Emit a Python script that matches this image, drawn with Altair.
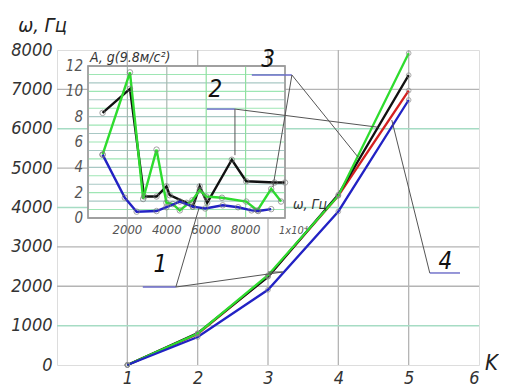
import altair as alt
import pandas as pd

# ---------------- main chart data ----------------
K = [1, 2, 3, 4, 5]
w_black = [0, 810, 2240, 4330, 7360]
w_red = [0, 790, 2250, 4300, 6970]
w_green = [0, 800, 2280, 4300, 7920]
w_blue = [0, 710, 1910, 3900, 6730]

x_ticks = [1, 2, 3, 4, 5, 6]
y_ticks = [0, 1000, 2000, 3000, 4000, 5000, 6000, 7000, 8000]
grid_k = [1, 2, 3, 4, 5]
grid_w_gray = [2000, 3000, 5000, 7000]
grid_w_green = [1000, 4000, 6000]

# ---------------- inset data ----------------
ins_black_x = [740, 2130, 2850, 3480, 3980, 4150, 5000, 5320, 5670, 6050, 7300, 8030, 9470, 10000]
ins_black_y = [8.3, 10.2, 1.7, 1.7, 2.5, 1.8, 1.2, 0.9, 2.5, 1.2, 4.6, 2.9, 2.8, 2.8]
ins_green_x = [740, 2130, 2800, 3480, 3980, 4300, 4660, 5300, 5670, 6000, 6800, 8030, 8600, 9300, 9800]
ins_green_y = [5.0, 11.5, 1.5, 5.4, 1.2, 1.1, 0.6, 1.4, 2.2, 1.7, 1.6, 1.3, 0.6, 2.3, 1.3]
ins_blue_x = [740, 1870, 2470, 3480, 3980, 4660, 5320, 5950, 6840, 7620, 8300, 8640, 9300]
ins_blue_y = [5.0, 1.6, 0.5, 0.55, 0.85, 1.3, 0.9, 0.75, 1.0, 0.85, 0.6, 0.55, 0.7]

ins_x_ticks = [2000, 4000, 6000, 8000]
ins_x_labels = ["2000", "4000", "6000", "8000"]
ins_y_ticks = [0, 2, 4, 6, 8, 10, 12]
ins_hgrid_a = [0.67, 2.0, 3.33, 4.67, 6.0, 7.33, 8.67, 10.0, 11.33]
ins_hgrid_b = [1.33, 2.67, 4.0, 5.33, 6.67, 8.0, 9.33, 10.67]
ins_vgrid_gray = [2000, 4000]
ins_vgrid_green = [6000, 8000]

# ---------------- annotation data (main-chart coordinates) ----------------
ann_labels = ["1", "2", "3", "4"]
ann_label_k = [1.47, 2.25, 3.0, 5.52]
ann_label_w = [2540, 6980, 7750, 2620]
shelf_k1 = [1.22, 2.13, 2.77, 5.30]
shelf_k2 = [1.69, 2.53, 3.34, 5.73]
shelf_w = [1980, 6500, 7365, 2337]
lead_k1 = [1.69, 1.69, 3.0, 2.53, 2.53, 3.34, 3.34, 5.30]
lead_w1 = [1980, 1980, 2362, 6500, 6500, 7365, 7365, 2337]
lead_k2 = [2.02, 3.21, 3.21, 2.53, 4.56, 4.28, 3.07, 4.76]
lead_w2 = [3990, 2362, 2362, 5330, 6040, 5280, 4520, 6220]

FONT = "DejaVu Sans Condensed"
GRAY = "#b4b4b4"
GREENGRID = "#a6dcc4"

series_names = ["red", "black", "green", "blue"]
series_colors = ["#d42020", "#111111", "#2edc2e", "#2222c4"]

main_rows = []
for name, vals in [("red", w_red), ("black", w_black), ("green", w_green), ("blue", w_blue)]:
    for k, w in zip(K, vals):
        main_rows.append({"K": k, "w": w, "s": name})
main_df = pd.DataFrame(main_rows)

ins_rows = []
for name, xs, ys in [("black", ins_black_x, ins_black_y), ("green", ins_green_x, ins_green_y),
                     ("blue", ins_blue_x, ins_blue_y)]:
    for i, (a, b) in enumerate(zip(xs, ys)):
        ins_rows.append({"f": a, "g": b, "s": name, "i": i})
ins_df = pd.DataFrame(ins_rows)

xs_main = alt.Scale(domain=[0, 6], nice=False, zero=False)
ys_main = alt.Scale(domain=[0, 8000], nice=False)
xaxis = alt.Axis(values=x_ticks, grid=False, ticks=False, domain=False, labelFont=FONT,
                 labelFontStyle="italic", labelFontSize=18, labelColor="#333", labelPadding=4,
                 title="K", titleFont=FONT, titleFontStyle="italic", titleFontWeight="normal",
                 titleFontSize=22, titleColor="#222", titleAngle=0, titleX=434, titleY=4,
                 titleAlign="center", titleBaseline="alphabetic")
yaxis = alt.Axis(values=y_ticks, format="d", grid=False, ticks=False, domain=False, labelFont=FONT,
                 labelFontStyle="italic", labelFontSize=18, labelColor="#333", labelPadding=5,
                 title="ω, Гц", titleFont=FONT, titleFontStyle="italic", titleFontWeight="normal",
                 titleFontSize=20, titleColor="#222", titleAngle=0, titleX=-15, titleY=-19,
                 titleAlign="center", titleBaseline="alphabetic")
X = lambda: alt.X("K:Q", scale=xs_main, axis=xaxis)
Y = lambda: alt.Y("w:Q", scale=ys_main, axis=yaxis)

vgrid = alt.Chart(pd.DataFrame({"K": grid_k, "w": 0, "w2": 8000})).mark_rule(
    color=GRAY, strokeWidth=1.3).encode(x=X(), y=Y(), y2="w2:Q")
hgrid_g = alt.Chart(pd.DataFrame({"w": grid_w_gray, "K": 0, "K2": 6})).mark_rule(
    color=GRAY, strokeWidth=1.3).encode(y=Y(), x=X(), x2="K2:Q")
hgrid_c = alt.Chart(pd.DataFrame({"w": grid_w_green, "K": 0, "K2": 6})).mark_rule(
    color=GREENGRID, strokeWidth=1.5).encode(y=Y(), x=X(), x2="K2:Q")
color = alt.Color("s:N", scale=alt.Scale(domain=series_names, range=series_colors), legend=None)
main_lines = alt.Chart(main_df).mark_line(strokeWidth=2.3).encode(x=X(), y=Y(), color=color,
                                                                  detail="s:N")
main_pts = alt.Chart(main_df).mark_point(filled=False, size=22, color="#888", strokeWidth=1).encode(x=X(), y=Y())
main = alt.layer(vgrid, hgrid_g, hgrid_c, main_lines, main_pts)

# ---------------- inset ----------------
xs_in = alt.Scale(domain=[0, 10000], range=[31, 228], nice=False, zero=False)
ys_in = alt.Scale(domain=[0, 12], range=[168, 16], nice=False, zero=False)
FX = lambda f="f": alt.X(f"{f}:Q", scale=xs_in, axis=None)
GY = lambda f="g": alt.Y(f"{f}:Q", scale=ys_in, axis=None)

ins_bg = alt.Chart(pd.DataFrame({"f": [0], "f2": [10000], "g": [0], "g2": [12]})).mark_rect(
    fill="white", stroke="#9a9a9a", strokeWidth=1.3).encode(x=FX(), x2="f2:Q", y=GY(), y2="g2:Q")
hga = alt.Chart(pd.DataFrame({"g": ins_hgrid_a, "f": 0, "f2": 10000})).mark_rule(
    color="#9ee6b4", strokeWidth=1.1).encode(y=GY(), x=FX(), x2="f2:Q")
hgb = alt.Chart(pd.DataFrame({"g": ins_hgrid_b, "f": 0, "f2": 10000})).mark_rule(
    color="#a8c8c4", strokeWidth=1.1).encode(y=GY(), x=FX(), x2="f2:Q")
vgg = alt.Chart(pd.DataFrame({"f": ins_vgrid_gray, "g": 0, "g2": 12})).mark_rule(
    color="#a8b8b0", strokeWidth=1.2).encode(x=FX(), y=GY(), y2="g2:Q")
vgc = alt.Chart(pd.DataFrame({"f": ins_vgrid_green, "g": 0, "g2": 12})).mark_rule(
    color="#8fe09f", strokeWidth=1.2).encode(x=FX(), y=GY(), y2="g2:Q")
ins_lines = alt.Chart(ins_df).mark_line(strokeWidth=2.4).encode(
    x=FX(), y=GY(), color=color, order="i:Q")
ins_pts = alt.Chart(ins_df).mark_point(filled=False, size=30, color="#7a7a7a", strokeWidth=1).encode(
    x=FX(), y=GY())
ins_border = alt.Chart(pd.DataFrame({"f": [0], "f2": [10000], "g": [0], "g2": [12]})).mark_rect(
    fill=None, stroke="#9a9a9a", strokeWidth=1.3).encode(x=FX(), x2="f2:Q", y=GY(), y2="g2:Q")
ylab = alt.Chart(pd.DataFrame({"g": ins_y_ticks, "f": 0})).mark_text(
    font=FONT, fontStyle="italic", fontSize=15, color="#555", align="right", baseline="middle", dx=-5
).encode(x=FX(), y=GY(), text=alt.Text("g:Q", format="d"))
xlab = alt.Chart(pd.DataFrame({"f": ins_x_ticks, "t": ins_x_labels, "g": 0})).mark_text(
    font=FONT, fontStyle="italic", fontSize=13, color="#555", align="center", baseline="middle", dy=12
).encode(x=FX(), y=GY(), text="t:N")
x10 = alt.Chart(pd.DataFrame({"f": [10000], "g": [0], "t": ["1x10⁴"]})).mark_text(
    font=FONT, fontStyle="italic", fontSize=11, color="#555", align="left", baseline="middle", dx=-6, dy=13
).encode(x=FX(), y=GY(), text="t:N")
xtitle = alt.Chart(pd.DataFrame({"f": [10000], "g": [1.0], "t": ["ω, Гц"]})).mark_text(
    font=FONT, fontStyle="italic", fontSize=14, color="#333", align="left", baseline="middle", dx=8
).encode(x=FX(), y=GY(), text="t:N")
ytitle = alt.Chart(pd.DataFrame({"f": [0], "g": [12], "t": ["A, g(9.8м/с²)"]})).mark_text(
    font=FONT, fontStyle="italic", fontSize=14, color="#333", align="left", baseline="bottom", dx=2, dy=-1
).encode(x=FX(), y=GY(), text="t:N")
inset = alt.layer(ins_bg, hga, hgb, vgg, vgc, ins_lines, ins_pts, ins_border, ylab, xlab, x10, xtitle, ytitle)

# ---------------- annotations ----------------
xs_a = alt.Scale(domain=[0, 6], nice=False, zero=False)
ys_a = alt.Scale(domain=[0, 8000], nice=False)
AX = lambda f: alt.X(f"{f}:Q", scale=xs_a, axis=None)
AY = lambda f: alt.Y(f"{f}:Q", scale=ys_a, axis=None)
shelves = alt.Chart(pd.DataFrame({"a": shelf_k1, "a2": shelf_k2, "b": shelf_w})).mark_rule(
    color="#6a6ac8", strokeWidth=1.4).encode(x=AX("a"), x2="a2:Q", y=AY("b"))
leads = alt.Chart(pd.DataFrame({"a": lead_k1, "b": lead_w1, "a2": lead_k2, "b2": lead_w2})).mark_rule(
    color="#555", strokeWidth=1).encode(x=AX("a"), y=AY("b"), x2="a2:Q", y2="b2:Q")
nums = alt.Chart(pd.DataFrame({"a": ann_label_k, "b": ann_label_w, "t": ann_labels})).mark_text(
    font=FONT, fontStyle="italic", fontSize=24, color="#111", align="center", baseline="middle"
).encode(x=AX("a"), y=AY("b"), text="t:N")
annot = alt.layer(shelves, leads, nums)

chart = alt.layer(main, inset, annot).resolve_scale(x="independent", y="independent").properties(
    width=422, height=315,
    autosize=alt.AutoSizeParams(type="none"),
    padding={"left": 49, "top": 42, "right": 20, "bottom": 23},
).configure_view(stroke="#9a9a9a", strokeWidth=1.5).configure(background="white")

chart.save("out.html", embed_options={"renderer": "svg", "actions": False})
